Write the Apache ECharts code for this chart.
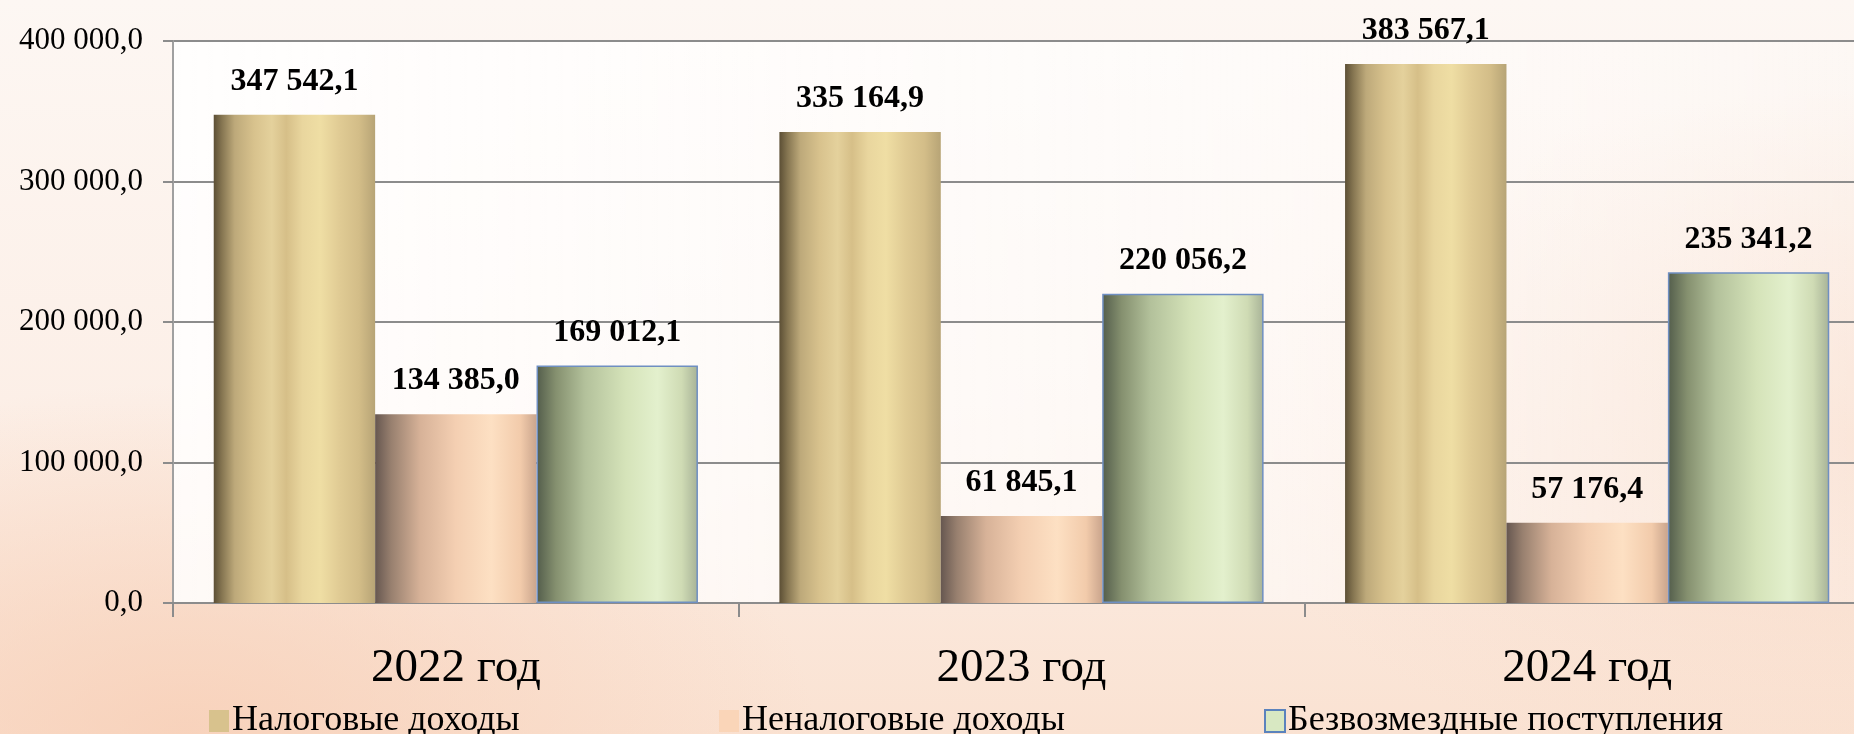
<!DOCTYPE html>
<html><head><meta charset="utf-8">
<script src="https://cdn.jsdelivr.net/npm/echarts@6/dist/echarts.min.js"></script>
<style>
html,body{margin:0;padding:0;width:1854px;height:734px;overflow:hidden;}
body{background:
 radial-gradient(ellipse 900px 500px at 10% 100%, rgba(247,205,180,0.75), rgba(247,205,180,0) 70%),
 radial-gradient(ellipse 900px 500px at 100% 60%, rgba(248,215,195,0.6), rgba(248,215,195,0) 70%),
 linear-gradient(180deg,#fdf7f3 0%,#fcefe7 55%,#fae2d2 100%);}
#c{width:1870px;height:734px;}
</style></head>
<body><div id="c"></div>
<script>
const categories = ['2022 год', '2023 год', '2024 год'];
const seriesNames = ['Налоговые доходы', 'Неналоговые доходы', 'Безвозмездные поступления'];
const taxIncome = [347542.1, 335164.9, 383567.1];
const nonTaxIncome = [134385.0, 61845.1, 57176.4];
const grants = [169012.1, 220056.2, 235341.2];
const yTicks = [0, 100000, 200000, 300000, 400000];

function fmt(v){
  const s = Number(v).toFixed(1);
  const [i,d] = s.split('.');
  return i.replace(/\B(?=(\d{3})+(?!\d))/g,' ') + ',' + d;
}
function grad(stops){
  return {type:'linear',x:0,y:0,x2:1,y2:0,colorStops:stops.map(s=>({offset:s[0],color:s[1]}))};
}
const woodFill = grad([[0,'#5c4f35'],[0.05,'#857551'],[0.13,'#bda97a'],[0.25,'#d8c28d'],[0.36,'#e4d19c'],[0.45,'#d6bf88'],[0.55,'#e9d69e'],[0.66,'#efdea4'],[0.78,'#e0cb94'],[0.9,'#d3bd88'],[1,'#b7a476']]);
const peachFill = grad([[0,'#665750'],[0.1,'#98806f'],[0.28,'#d7b298'],[0.5,'#f4cfb2'],[0.72,'#fde0c3'],[0.9,'#f2cbab'],[1,'#caa58d']]);
const greenFill = grad([[0,'#535d4b'],[0.12,'#85906f'],[0.3,'#b3c19b'],[0.55,'#d5e3b9'],[0.75,'#e3f0cd'],[0.9,'#cfdbb4'],[1,'#a7b297']]);

const labelStyle = {show:true, position:'top', distance:17, formatter:p=>fmt(p.value),
  fontFamily:'"Liberation Serif", serif', fontWeight:'bold', fontSize:32, color:'#000'};

function legendAt(name, left, color, border){
  return {data:[{name:name, itemStyle:{color:color, borderColor:border||'transparent', borderWidth:border?2:0}}],
    left:left, top:698, itemWidth:20, itemHeight:22, itemGap:8, icon:'rect',
    textStyle:{fontFamily:'"Liberation Serif", serif', fontSize:36, color:'#000', padding:[0,0,0,-2]}};
}

const chart = echarts.init(document.getElementById('c'), null, {renderer:'canvas'});
chart.setOption({
  animation:false,
  backgroundColor:'transparent',
  legend:[
    legendAt(seriesNames[0], 204, '#d8c28d'),
    legendAt(seriesNames[1], 714, '#fad5b8'),
    legendAt(seriesNames[2], 1259, '#d8e8c2', '#5b83bd')
  ],
  grid:{left:173, right:0, top:41, bottom:131, show:true, borderWidth:0,
    backgroundColor:{type:'linear',x:0,y:0,x2:1,y2:0,colorStops:[{offset:0,color:'rgba(255,255,255,0.85)'},{offset:0.6,color:'rgba(255,255,255,0.6)'},{offset:1,color:'rgba(255,255,255,0.2)'}]}},
  xAxis:{type:'category', data:categories,
    axisLine:{lineStyle:{color:'#8c8c8c', width:2}},
    axisTick:{show:true, length:14, lineStyle:{color:'#8c8c8c', width:2}},
    axisLabel:{fontFamily:'"Liberation Serif", serif', fontSize:47, color:'#000', margin:42}},
  yAxis:{type:'value', min:0, max:400000, interval:100000,
    axisLine:{show:true, lineStyle:{color:'#a0a0a0', width:2}},
    axisTick:{show:true, length:10, lineStyle:{color:'#8c8c8c', width:2}},
    splitLine:{lineStyle:{color:'#8c8c8c', width:2}},
    axisLabel:{fontFamily:'"Liberation Serif", serif', fontSize:31, color:'#000', margin:30,
      formatter:v=>yTicks.includes(v)?fmt(v):''}},
  series:[
    {name:seriesNames[0], type:'bar', data:taxIncome, barGap:'0%', barCategoryGap:'14.4%',
      itemStyle:{color:woodFill}, label:labelStyle},
    {name:seriesNames[1], type:'bar', data:nonTaxIncome, barGap:'0%', barCategoryGap:'14.4%',
      itemStyle:{color:peachFill}, label:labelStyle},
    {name:seriesNames[2], type:'bar', data:grants, barGap:'0%', barCategoryGap:'14.4%',
      itemStyle:{color:greenFill, borderColor:'#6f8fc2', borderWidth:1.5}, label:labelStyle}
  ]
});
</script></body></html>
